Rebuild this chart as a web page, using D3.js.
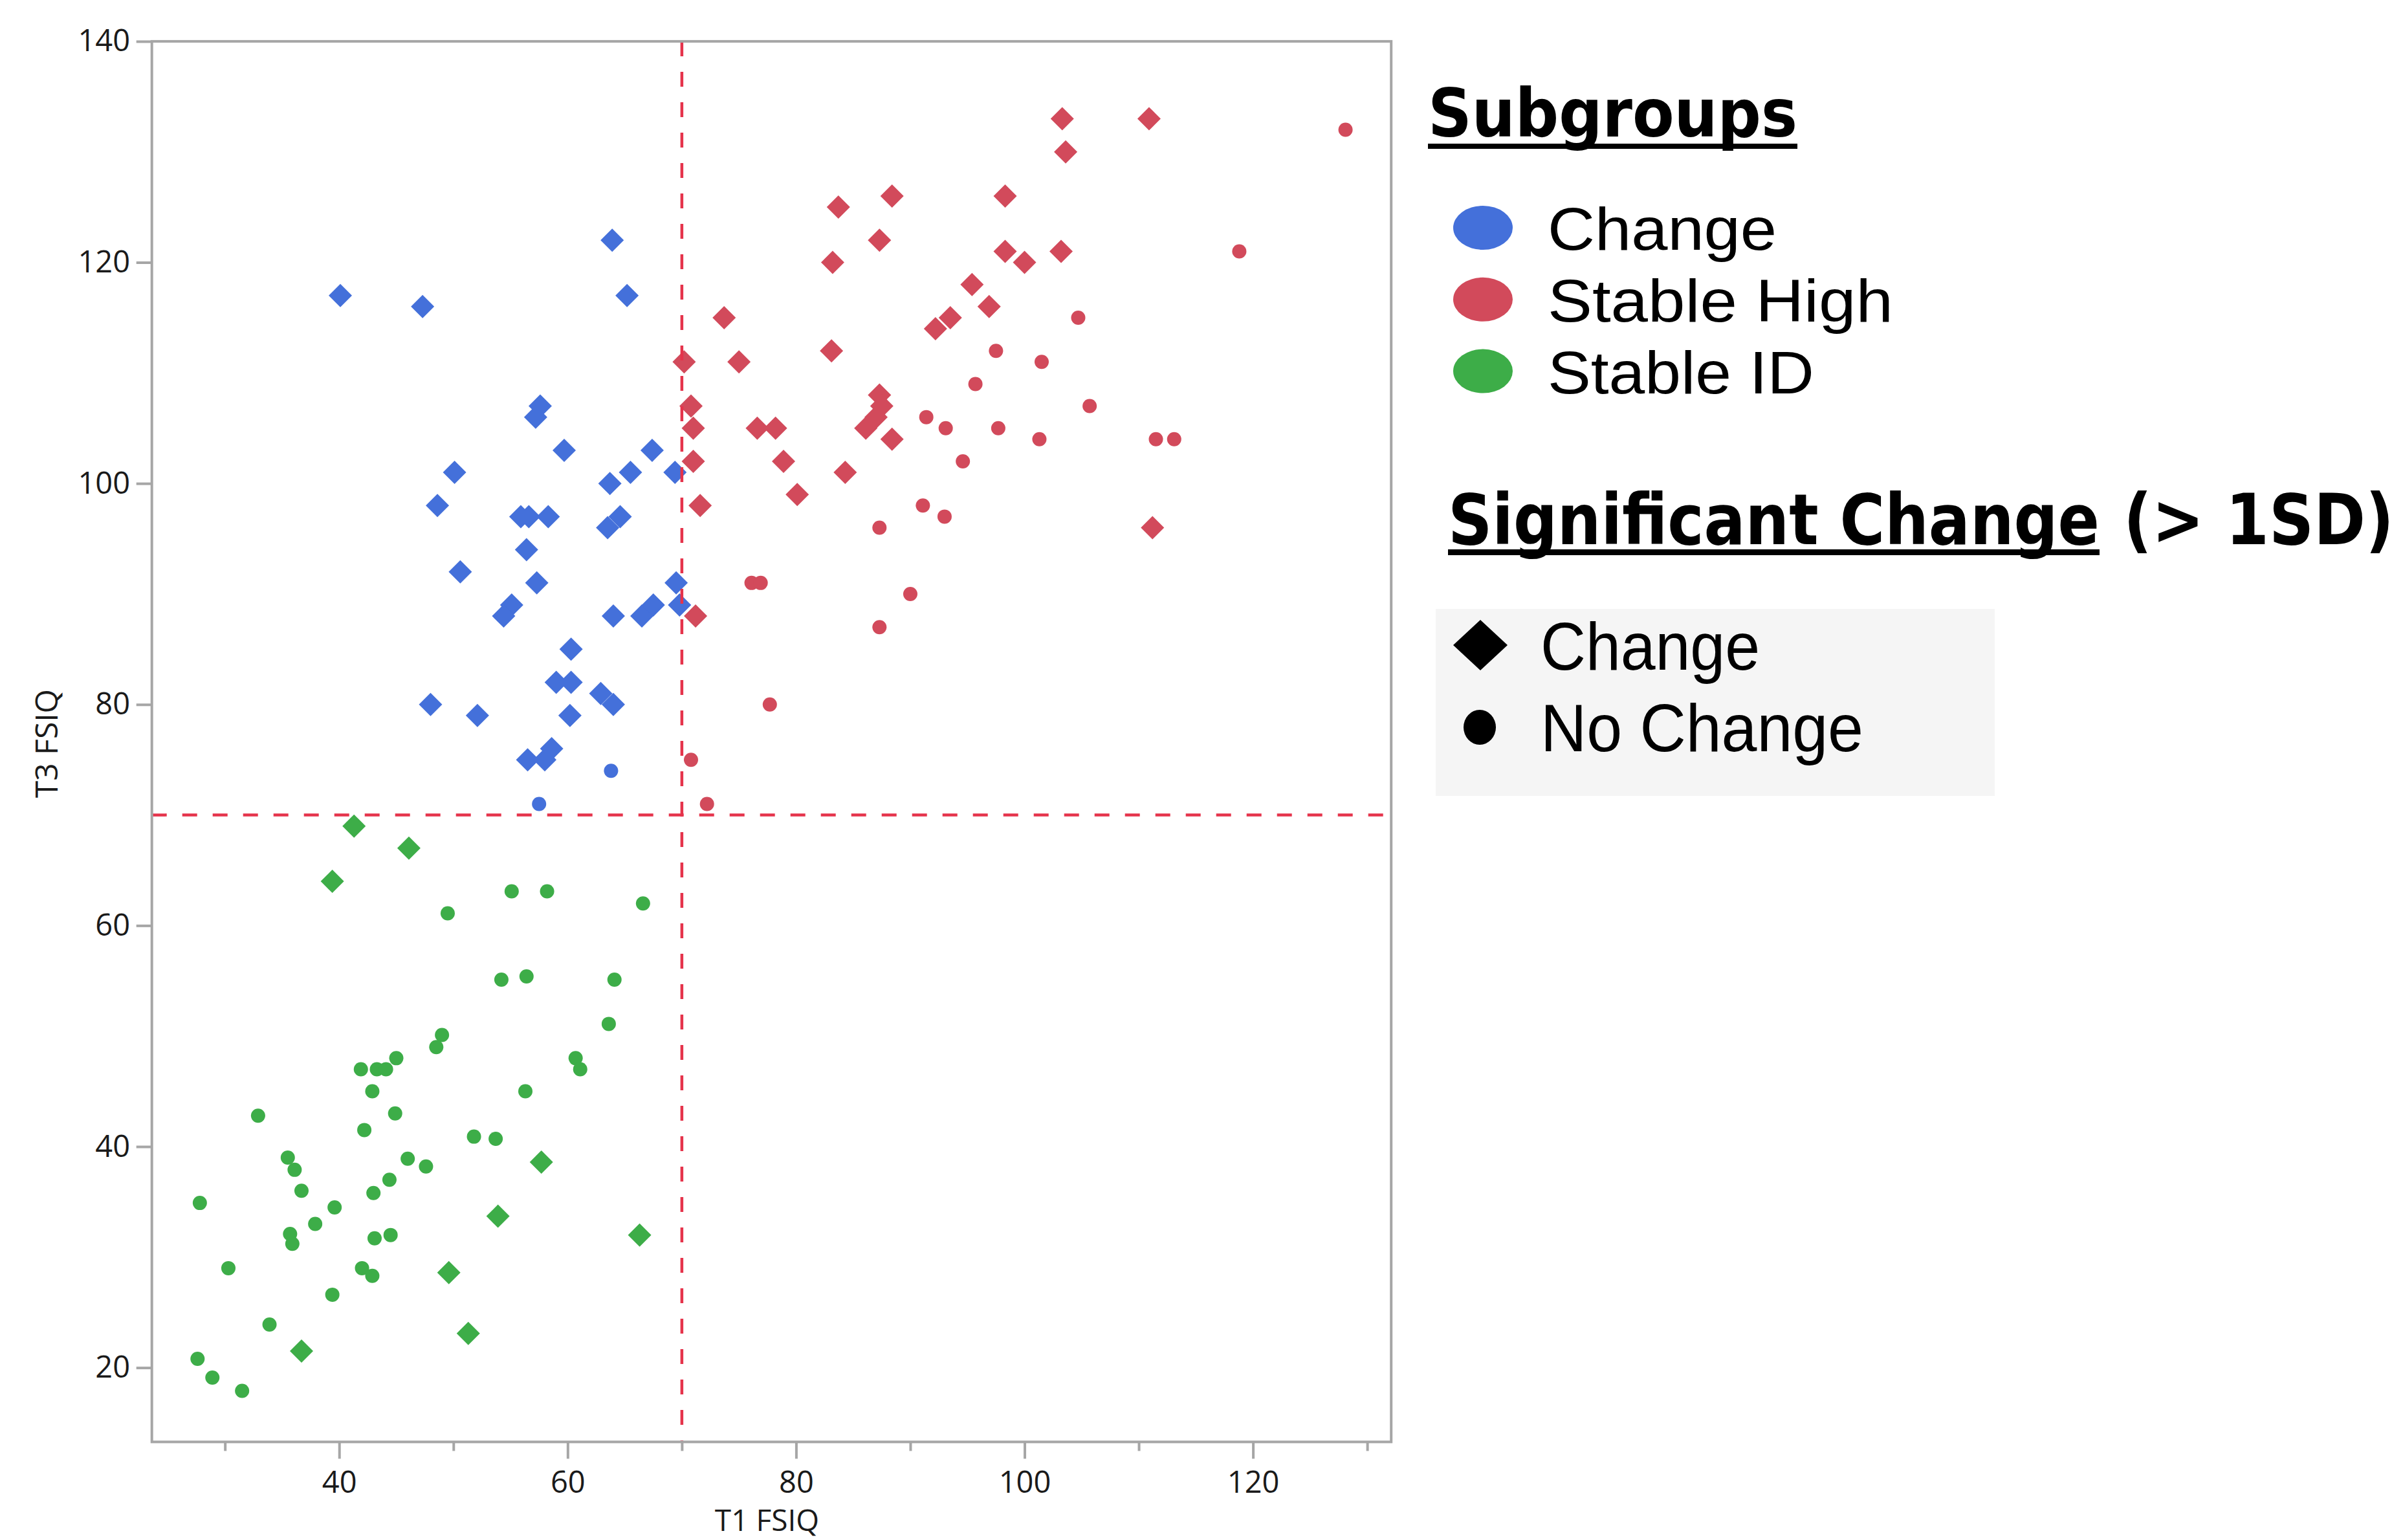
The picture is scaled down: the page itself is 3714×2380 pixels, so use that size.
<!DOCTYPE html>
<html>
<head>
<meta charset="utf-8">
<script src="https://cdn.jsdelivr.net/npm/d3@7"></script>
<style>
  html, body { margin: 0; padding: 0; background: #ffffff; }
  svg { display: block; }
</style>
</head>
<body>
<svg id="chart" width="3714" height="2380"></svg>
<script>
// ---- Axis setup -------------------------------------------------------------
const xMajorTicks = [40, 60, 80, 100, 120];
const xMinorTicks = [30, 50, 70, 90, 110, 130];
const yTicks = [20, 40, 60, 80, 100, 120, 140];
const cutoff = 70;               // FSIQ threshold drawn as dashed reference lines
const xTitle = "T1 FSIQ";
const yTitle = "T3 FSIQ";

// ---- Legend labels ----------------------------------------------------------
const subgroups = ["Change", "Stable High", "Stable ID"];
const subgroupColors = ["#4470DA", "#D24A5B", "#3DAD48"];
const changeKinds = ["Change", "No Change"];

// ---- Data: [T1 FSIQ, T3 FSIQ] -----------------------------------------------
// Change subgroup
const changeSig = [
  [63.9,122],[40.1,117],[47.3,116],[65.2,117],[57.6,107],[57.2,106],[59.7,103],[67.4,103],
  [50.1,101],[65.5,101],[69.4,101],[63.7,100],[48.6,98],[55.9,97],[56.6,97],[58.3,97],
  [64.6,97],[63.5,96],[56.4,94],[50.6,92],[57.3,91],[69.5,91],[55.1,89],[54.4,88],
  [64.0,88],[66.5,88],[67.5,89],[69.8,89],[60.3,85],[59.0,82],[60.3,82],[62.9,81],
  [64.0,80],[60.2,79],[48.0,80],[52.1,79],[56.5,75],[58.0,75],[58.6,76]
];
const changeNoSig = [[63.8,74],[57.5,71]];

// Stable High subgroup
const highSig = [
  [103.3,133],[110.9,133],[103.6,130],[83.7,125],[88.4,126],[98.3,126],[87.3,122],[83.2,120],
  [98.3,121],[100.0,120],[103.2,121],[95.4,118],[96.9,116],[93.5,115],[92.2,114],[73.7,115],
  [70.2,111],[75.0,111],[83.1,112],[87.3,108],[87.5,107],[87.0,106],[86.1,105],[88.4,104],
  [70.8,107],[71.0,105],[71.0,102],[71.6,98],[71.2,88],[76.6,105],[78.2,105],[78.9,102],
  [80.1,99],[84.3,101],[111.2,96]
];
const highNoSig = [
  [128.1,132],[118.8,121],[104.7,115],[97.5,112],[101.5,111],[95.7,109],[105.7,107],[91.4,106],
  [93.1,105],[97.7,105],[101.3,104],[111.5,104],[113.1,104],[94.6,102],[91.1,98],[93.0,97],
  [87.3,96],[76.1,91],[76.9,91],[90.0,90],[87.3,87],[77.7,80],[70.8,75],[72.2,71]
];

// Stable ID subgroup
const idSig = [
  [41.3,69],[46.1,67],[39.4,64],[57.7,38.6],[53.9,33.7],[66.3,32],[49.6,28.6],[51.3,23.1],[36.7,21.5]
];
const idNoSig = [
  [55.1,63.1],[58.2,63.1],[49.5,61.1],[66.6,62],[54.2,55.1],[56.4,55.4],[64.1,55.1],[63.6,51.1],
  [49.0,50.1],[48.5,49],[45.0,48],[41.9,47],[43.3,47],[44.1,47],[60.7,48],[61.1,47],
  [42.9,45],[56.3,45],[32.9,42.8],[44.9,43],[42.2,41.5],[51.8,40.9],[53.7,40.7],[35.5,39],
  [36.1,37.9],[46.0,38.9],[47.6,38.2],[44.4,37],[36.7,36],[43.0,35.8],[27.8,34.9],[39.6,34.5],
  [37.9,33],[35.7,32.1],[35.9,31.2],[43.1,31.7],[44.5,32],[30.3,29],[42.0,29],[42.9,28.3],
  [39.4,26.6],[33.9,23.9],[27.6,20.8],[28.9,19.1],[31.5,17.9]
];

// Flat table of all points for drawing
const seriesTable = [
  { group: 0, kind: 0, values: changeSig },
  { group: 0, kind: 1, values: changeNoSig },
  { group: 1, kind: 0, values: highSig },
  { group: 1, kind: 1, values: highNoSig },
  { group: 2, kind: 0, values: idSig },
  { group: 2, kind: 1, values: idNoSig }
];
const points = seriesTable.flatMap(s => s.values.map(v => ({ t1: v[0], t3: v[1], group: s.group, kind: s.kind })));

// ---- Layout -----------------------------------------------------------------
const plot = { left: 234.7, right: 2150.2, top: 63.9, bottom: 2228.4 };
const frameColor = "#a6a6a6";
const textColor = "#1a1a1a";
const regularFont = "'Open Sans', 'Noto Sans', sans-serif";
const legendFont = "'Liberation Sans', Arial, sans-serif";
const boldFont = "'DejaVu Sans', 'Noto Sans', sans-serif";

const x = d3.scaleLinear().domain([23.6, 132.1]).range([plot.left, plot.right]);
const y = d3.scaleLinear().domain([13.28, 140]).range([plot.bottom, plot.top]);

const svg = d3.select("#chart");

// Square diamond (equal diagonals) symbol
const squareDiamond = {
  draw(ctx, size) {
    const r = Math.sqrt(size / 2);
    ctx.moveTo(0, -r); ctx.lineTo(r, 0); ctx.lineTo(0, r); ctx.lineTo(-r, 0); ctx.closePath();
  }
};
const diamondPath = d3.symbol().type(squareDiamond).size(2 * 18 * 18)();
const dotPath = d3.symbol().type(d3.symbolCircle).size(Math.PI * 11 * 11)();

// Text squeezed horizontally to a given width (glyphs scaled, baseline kept)
function fittedText(parent, str, x0, baseline, width, fontSize, family, bold) {
  const g = parent.append("g");
  const t = g.append("text")
    .attr("x", 0).attr("y", 0)
    .attr("fill", "#000")
    .style("font-family", family)
    .style("font-weight", bold ? "bold" : "normal")
    .style("font-size", fontSize + "px")
    .text(str);
  const natural = t.node().getComputedTextLength();
  g.attr("transform", `translate(${x0},${baseline}) scale(${width / natural},1)`);
  return g;
}

// ---- Axes -------------------------------------------------------------------
const xAxisMinor = d3.axisBottom(x).tickValues(xMinorTicks).tickSize(14).tickFormat("");
const xAxisMajor = d3.axisBottom(x).tickValues(xMajorTicks).tickSize(26).tickPadding(19.6).tickFormat(d3.format("d"));
const yAxis = d3.axisLeft(y).tickValues(yTicks).tickSize(24).tickPadding(9.7).tickFormat(d3.format("d"));

function styleAxis(g) {
  g.select(".domain").remove();
  g.selectAll(".tick line").attr("stroke", frameColor).attr("stroke-width", 4);
  g.selectAll(".tick text")
    .attr("fill", textColor)
    .style("font-family", regularFont)
    .style("font-size", "47px");
}

svg.append("g").attr("transform", `translate(0,${plot.bottom})`).call(xAxisMinor).call(styleAxis);
svg.append("g").attr("transform", `translate(0,${plot.bottom})`).call(xAxisMajor).call(styleAxis);
svg.append("g").attr("transform", `translate(${plot.left},0)`).call(yAxis).call(styleAxis);

// ---- Points -----------------------------------------------------------------
svg.append("g")
  .selectAll("path")
  .data(points)
  .join("path")
  .attr("d", d => d.kind === 0 ? diamondPath : dotPath)
  .attr("transform", d => `translate(${x(d.t1)},${y(d.t3)})`)
  .attr("fill", d => subgroupColors[d.group]);

// ---- Reference lines at the cutoff -----------------------------------------
const refLines = svg.append("g")
  .attr("stroke", "#E5334B")
  .attr("stroke-width", 4.5)
  .attr("stroke-dasharray", "23,24");
refLines.append("line")
  .attr("x1", x(cutoff)).attr("x2", x(cutoff))
  .attr("y1", plot.top).attr("y2", plot.bottom);
refLines.append("line")
  .attr("x1", plot.left).attr("x2", plot.right)
  .attr("y1", y(cutoff)).attr("y2", y(cutoff));

// ---- Frame ------------------------------------------------------------------
svg.append("rect")
  .attr("x", plot.left).attr("y", plot.top)
  .attr("width", plot.right - plot.left).attr("height", plot.bottom - plot.top)
  .attr("fill", "none").attr("stroke", frameColor).attr("stroke-width", 4);

// ---- Axis titles ------------------------------------------------------------
svg.append("text")
  .attr("x", (plot.left + plot.right) / 2 - 7).attr("y", 2366)
  .attr("text-anchor", "middle")
  .attr("fill", textColor)
  .style("font-family", regularFont).style("font-size", "46px")
  .text(xTitle);
svg.append("text")
  .attr("transform", `translate(89,${(plot.top + plot.bottom) / 2 + 3}) rotate(-90)`)
  .attr("text-anchor", "middle")
  .attr("fill", textColor)
  .style("font-family", regularFont).style("font-size", "48px")
  .text(yTitle);

// ---- Legend: subgroups (colour) --------------------------------------------
const legend = svg.append("g");
fittedText(legend, "Subgroups", 2207, 211, 571, 104, boldFont, true);
legend.append("rect").attr("x", 2207).attr("y", 222).attr("width", 571).attr("height", 8).attr("fill", "#000");

const subgroupWidths = [354, 534, 412];
subgroups.forEach((name, i) => {
  const cy = 352 + i * 110.8;
  legend.append("ellipse")
    .attr("cx", 2292).attr("cy", cy).attr("rx", 46).attr("ry", 34)
    .attr("fill", subgroupColors[i]);
  fittedText(legend, name, 2392, cy + 34, subgroupWidths[i], 93, legendFont, false);
});

// ---- Legend: significant change (shape) ------------------------------------
fittedText(legend, "Significant Change", 2238, 841, 1007, 108, boldFont, true);
fittedText(legend, "(> 1SD)", 3282, 841, 418, 108, boldFont, true);
legend.append("rect").attr("x", 2238).attr("y", 849).attr("width", 1007).attr("height", 9).attr("fill", "#000");

legend.append("rect")
  .attr("x", 2219).attr("y", 941).attr("width", 864).attr("height", 289)
  .attr("fill", "#f5f5f5");

const kindRows = [
  { cy: 997, baseline: 1035, width: 339 },
  { cy: 1124, baseline: 1161, width: 499 }
];
changeKinds.forEach((name, i) => {
  const row = kindRows[i];
  if (i === 0) {
    legend.append("path")
      .attr("d", d3.symbol().type(squareDiamond).size(2 * 42 * 42)())
      .attr("transform", `translate(2288,${row.cy}) scale(1,0.93)`)
      .attr("fill", "#000");
  } else {
    legend.append("ellipse")
      .attr("cx", 2287).attr("cy", row.cy).attr("rx", 25).attr("ry", 27)
      .attr("fill", "#000");
  }
  fittedText(legend, name, 2381, row.baseline, row.width, 104, legendFont, false);
});
</script>
</body>
</html>
